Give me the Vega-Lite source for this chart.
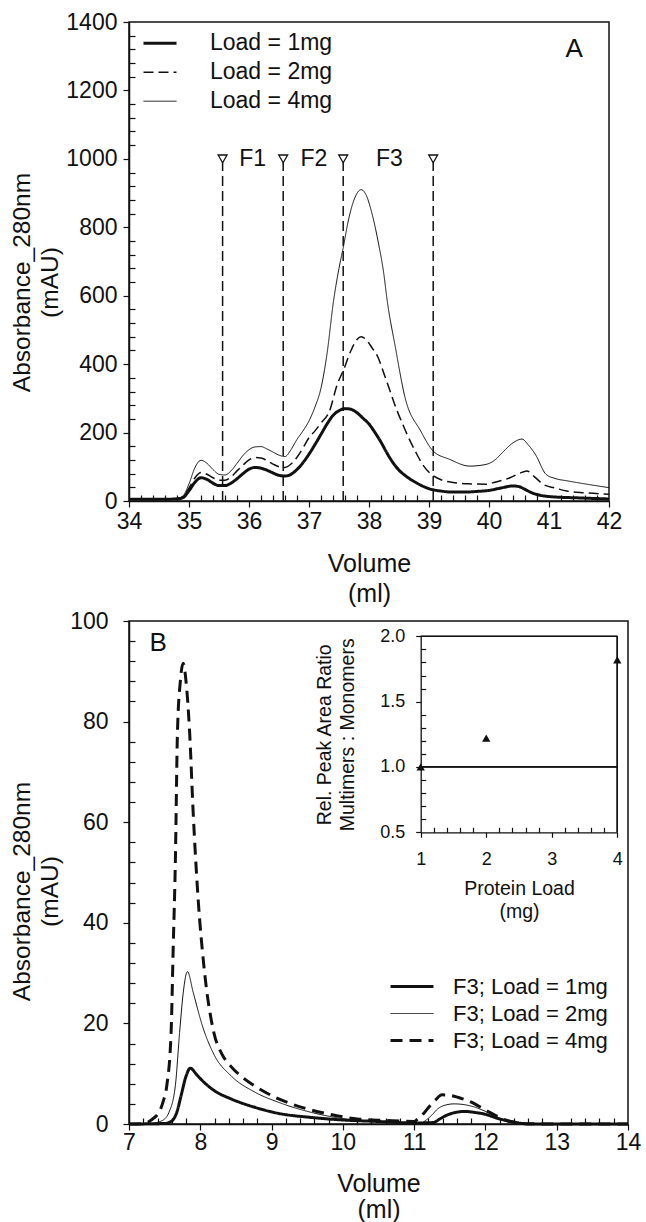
{
  "$schema": "https://vega.github.io/schema/vega-lite/v6.json",
  "background": "white",
  "padding": {"left": 8, "top": 10, "right": 5, "bottom": 0},
  "spacing": 2,
  "config": {
    "font": "Liberation Sans",
    "view": {"stroke": "#111", "strokeWidth": 1.5},
    "axis": {
      "domainColor": "#111", "domainWidth": 1.5, "tickColor": "#111", "tickWidth": 1.2,
      "labelColor": "#111", "titleColor": "#111", "labelFontSize": 23, "titleFontSize": 25,
      "titleFontWeight": "normal", "grid": false, "labelOverlap": false, "labelFlush": false
    },
    "legend": {"labelColor": "#111", "symbolStrokeColor": "#111", "labelLimit": 400}
  },
  "resolve": {
    "scale": {"strokeDash": "independent", "strokeWidth": "independent"},
    "legend": {"strokeDash": "independent", "strokeWidth": "independent"}
  },
  "datasets": {
    "a": [
      {"v":34.0,"a":5,"load":"Load = 1mg"},{"v":34.5,"a":5,"load":"Load = 1mg"},{"v":34.8,"a":6,"load":"Load = 1mg"},{"v":34.9,"a":10,"load":"Load = 1mg"},{"v":35.0,"a":30,"load":"Load = 1mg"},{"v":35.1,"a":55,"load":"Load = 1mg"},{"v":35.2,"a":68,"load":"Load = 1mg"},{"v":35.3,"a":63,"load":"Load = 1mg"},{"v":35.4,"a":52,"load":"Load = 1mg"},{"v":35.5,"a":45,"load":"Load = 1mg"},{"v":35.6,"a":45,"load":"Load = 1mg"},{"v":35.7,"a":52,"load":"Load = 1mg"},{"v":35.8,"a":65,"load":"Load = 1mg"},{"v":35.9,"a":80,"load":"Load = 1mg"},{"v":36.0,"a":93,"load":"Load = 1mg"},{"v":36.1,"a":98,"load":"Load = 1mg"},{"v":36.2,"a":96,"load":"Load = 1mg"},{"v":36.3,"a":90,"load":"Load = 1mg"},{"v":36.4,"a":82,"load":"Load = 1mg"},{"v":36.5,"a":75,"load":"Load = 1mg"},{"v":36.6,"a":73,"load":"Load = 1mg"},{"v":36.7,"a":78,"load":"Load = 1mg"},{"v":36.8,"a":92,"load":"Load = 1mg"},{"v":36.9,"a":112,"load":"Load = 1mg"},{"v":37.0,"a":137,"load":"Load = 1mg"},{"v":37.1,"a":165,"load":"Load = 1mg"},{"v":37.2,"a":195,"load":"Load = 1mg"},{"v":37.3,"a":225,"load":"Load = 1mg"},{"v":37.4,"a":250,"load":"Load = 1mg"},{"v":37.5,"a":264,"load":"Load = 1mg"},{"v":37.6,"a":270,"load":"Load = 1mg"},{"v":37.7,"a":268,"load":"Load = 1mg"},{"v":37.8,"a":258,"load":"Load = 1mg"},{"v":37.9,"a":242,"load":"Load = 1mg"},{"v":38.0,"a":225,"load":"Load = 1mg"},{"v":38.1,"a":200,"load":"Load = 1mg"},{"v":38.2,"a":172,"load":"Load = 1mg"},{"v":38.3,"a":140,"load":"Load = 1mg"},{"v":38.4,"a":112,"load":"Load = 1mg"},{"v":38.5,"a":90,"load":"Load = 1mg"},{"v":38.6,"a":75,"load":"Load = 1mg"},{"v":38.8,"a":52,"load":"Load = 1mg"},{"v":39.0,"a":36,"load":"Load = 1mg"},{"v":39.2,"a":29,"load":"Load = 1mg"},{"v":39.4,"a":26,"load":"Load = 1mg"},{"v":39.6,"a":26,"load":"Load = 1mg"},{"v":39.8,"a":28,"load":"Load = 1mg"},{"v":40.0,"a":31,"load":"Load = 1mg"},{"v":40.2,"a":38,"load":"Load = 1mg"},{"v":40.4,"a":44,"load":"Load = 1mg"},{"v":40.5,"a":42,"load":"Load = 1mg"},{"v":40.6,"a":34,"load":"Load = 1mg"},{"v":40.7,"a":25,"load":"Load = 1mg"},{"v":40.8,"a":19,"load":"Load = 1mg"},{"v":41.0,"a":13,"load":"Load = 1mg"},{"v":41.5,"a":9,"load":"Load = 1mg"},{"v":42.0,"a":6,"load":"Load = 1mg"},
      {"v":34.0,"a":5,"load":"Load = 2mg"},{"v":34.5,"a":5,"load":"Load = 2mg"},{"v":34.8,"a":7,"load":"Load = 2mg"},{"v":34.9,"a":12,"load":"Load = 2mg"},{"v":35.0,"a":38,"load":"Load = 2mg"},{"v":35.1,"a":68,"load":"Load = 2mg"},{"v":35.2,"a":83,"load":"Load = 2mg"},{"v":35.3,"a":78,"load":"Load = 2mg"},{"v":35.4,"a":68,"load":"Load = 2mg"},{"v":35.5,"a":61,"load":"Load = 2mg"},{"v":35.6,"a":61,"load":"Load = 2mg"},{"v":35.7,"a":70,"load":"Load = 2mg"},{"v":35.8,"a":88,"load":"Load = 2mg"},{"v":35.9,"a":105,"load":"Load = 2mg"},{"v":36.0,"a":120,"load":"Load = 2mg"},{"v":36.1,"a":127,"load":"Load = 2mg"},{"v":36.2,"a":126,"load":"Load = 2mg"},{"v":36.3,"a":118,"load":"Load = 2mg"},{"v":36.4,"a":108,"load":"Load = 2mg"},{"v":36.5,"a":100,"load":"Load = 2mg"},{"v":36.6,"a":98,"load":"Load = 2mg"},{"v":36.7,"a":108,"load":"Load = 2mg"},{"v":36.8,"a":128,"load":"Load = 2mg"},{"v":36.9,"a":155,"load":"Load = 2mg"},{"v":37.0,"a":185,"load":"Load = 2mg"},{"v":37.1,"a":205,"load":"Load = 2mg"},{"v":37.2,"a":228,"load":"Load = 2mg"},{"v":37.34,"a":262,"load":"Load = 2mg"},{"v":37.47,"a":340,"load":"Load = 2mg"},{"v":37.58,"a":385,"load":"Load = 2mg"},{"v":37.7,"a":440,"load":"Load = 2mg"},{"v":37.8,"a":472,"load":"Load = 2mg"},{"v":37.87,"a":480,"load":"Load = 2mg"},{"v":37.95,"a":472,"load":"Load = 2mg"},{"v":38.05,"a":448,"load":"Load = 2mg"},{"v":38.15,"a":420,"load":"Load = 2mg"},{"v":38.25,"a":372,"load":"Load = 2mg"},{"v":38.35,"a":322,"load":"Load = 2mg"},{"v":38.45,"a":272,"load":"Load = 2mg"},{"v":38.56,"a":225,"load":"Load = 2mg"},{"v":38.66,"a":185,"load":"Load = 2mg"},{"v":38.77,"a":146,"load":"Load = 2mg"},{"v":38.9,"a":105,"load":"Load = 2mg"},{"v":39.04,"a":78,"load":"Load = 2mg"},{"v":39.2,"a":62,"load":"Load = 2mg"},{"v":39.4,"a":54,"load":"Load = 2mg"},{"v":39.7,"a":50,"load":"Load = 2mg"},{"v":39.94,"a":49,"load":"Load = 2mg"},{"v":40.1,"a":55,"load":"Load = 2mg"},{"v":40.35,"a":68,"load":"Load = 2mg"},{"v":40.5,"a":80,"load":"Load = 2mg"},{"v":40.63,"a":88,"load":"Load = 2mg"},{"v":40.75,"a":72,"load":"Load = 2mg"},{"v":40.9,"a":49,"load":"Load = 2mg"},{"v":41.1,"a":38,"load":"Load = 2mg"},{"v":41.3,"a":29,"load":"Load = 2mg"},{"v":41.6,"a":24,"load":"Load = 2mg"},{"v":42.0,"a":20,"load":"Load = 2mg"},
      {"v":34.0,"a":5,"load":"Load = 4mg"},{"v":34.5,"a":5,"load":"Load = 4mg"},{"v":34.8,"a":8,"load":"Load = 4mg"},{"v":34.9,"a":15,"load":"Load = 4mg"},{"v":35.0,"a":50,"load":"Load = 4mg"},{"v":35.1,"a":98,"load":"Load = 4mg"},{"v":35.2,"a":119,"load":"Load = 4mg"},{"v":35.3,"a":110,"load":"Load = 4mg"},{"v":35.4,"a":92,"load":"Load = 4mg"},{"v":35.5,"a":78,"load":"Load = 4mg"},{"v":35.6,"a":76,"load":"Load = 4mg"},{"v":35.7,"a":88,"load":"Load = 4mg"},{"v":35.8,"a":110,"load":"Load = 4mg"},{"v":35.9,"a":133,"load":"Load = 4mg"},{"v":36.0,"a":150,"load":"Load = 4mg"},{"v":36.1,"a":158,"load":"Load = 4mg"},{"v":36.2,"a":159,"load":"Load = 4mg"},{"v":36.3,"a":152,"load":"Load = 4mg"},{"v":36.4,"a":143,"load":"Load = 4mg"},{"v":36.5,"a":134,"load":"Load = 4mg"},{"v":36.6,"a":130,"load":"Load = 4mg"},{"v":36.7,"a":150,"load":"Load = 4mg"},{"v":36.8,"a":180,"load":"Load = 4mg"},{"v":36.9,"a":205,"load":"Load = 4mg"},{"v":37.0,"a":234,"load":"Load = 4mg"},{"v":37.1,"a":275,"load":"Load = 4mg"},{"v":37.2,"a":330,"load":"Load = 4mg"},{"v":37.3,"a":430,"load":"Load = 4mg"},{"v":37.41,"a":586,"load":"Load = 4mg"},{"v":37.5,"a":680,"load":"Load = 4mg"},{"v":37.57,"a":740,"load":"Load = 4mg"},{"v":37.65,"a":815,"load":"Load = 4mg"},{"v":37.75,"a":880,"load":"Load = 4mg"},{"v":37.87,"a":910,"load":"Load = 4mg"},{"v":37.95,"a":895,"load":"Load = 4mg"},{"v":38.05,"a":840,"load":"Load = 4mg"},{"v":38.15,"a":760,"load":"Load = 4mg"},{"v":38.25,"a":660,"load":"Load = 4mg"},{"v":38.3,"a":590,"load":"Load = 4mg"},{"v":38.44,"a":449,"load":"Load = 4mg"},{"v":38.6,"a":303,"load":"Load = 4mg"},{"v":38.86,"a":205,"load":"Load = 4mg"},{"v":39.07,"a":146,"load":"Load = 4mg"},{"v":39.34,"a":122,"load":"Load = 4mg"},{"v":39.68,"a":102,"load":"Load = 4mg"},{"v":39.95,"a":107,"load":"Load = 4mg"},{"v":40.1,"a":120,"load":"Load = 4mg"},{"v":40.22,"a":141,"load":"Load = 4mg"},{"v":40.4,"a":170,"load":"Load = 4mg"},{"v":40.55,"a":181,"load":"Load = 4mg"},{"v":40.65,"a":165,"load":"Load = 4mg"},{"v":40.78,"a":134,"load":"Load = 4mg"},{"v":40.95,"a":78,"load":"Load = 4mg"},{"v":41.1,"a":66,"load":"Load = 4mg"},{"v":41.3,"a":59,"load":"Load = 4mg"},{"v":41.6,"a":50,"load":"Load = 4mg"},{"v":42.0,"a":39,"load":"Load = 4mg"}
    ],
    "b": [
      {"v":7.0,"a":0,"load":"F3; Load = 1mg"},{"v":7.5,"a":0.1,"load":"F3; Load = 1mg"},{"v":7.6,"a":0.6,"load":"F3; Load = 1mg"},{"v":7.67,"a":2.3,"load":"F3; Load = 1mg"},{"v":7.73,"a":5.6,"load":"F3; Load = 1mg"},{"v":7.8,"a":9.5,"load":"F3; Load = 1mg"},{"v":7.86,"a":11.1,"load":"F3; Load = 1mg"},{"v":7.95,"a":9.8,"load":"F3; Load = 1mg"},{"v":8.03,"a":8.6,"load":"F3; Load = 1mg"},{"v":8.2,"a":6.6,"load":"F3; Load = 1mg"},{"v":8.43,"a":5.0,"load":"F3; Load = 1mg"},{"v":8.77,"a":3.3,"load":"F3; Load = 1mg"},{"v":9.1,"a":2.1,"load":"F3; Load = 1mg"},{"v":9.56,"a":1.3,"load":"F3; Load = 1mg"},{"v":10.0,"a":0.8,"load":"F3; Load = 1mg"},{"v":10.5,"a":0.5,"load":"F3; Load = 1mg"},{"v":11.0,"a":0.2,"load":"F3; Load = 1mg"},{"v":11.27,"a":0.3,"load":"F3; Load = 1mg"},{"v":11.36,"a":1.0,"load":"F3; Load = 1mg"},{"v":11.45,"a":1.7,"load":"F3; Load = 1mg"},{"v":11.58,"a":2.3,"load":"F3; Load = 1mg"},{"v":11.72,"a":2.5,"load":"F3; Load = 1mg"},{"v":11.85,"a":2.3,"load":"F3; Load = 1mg"},{"v":11.98,"a":2.0,"load":"F3; Load = 1mg"},{"v":12.2,"a":1.0,"load":"F3; Load = 1mg"},{"v":12.43,"a":0.3,"load":"F3; Load = 1mg"},{"v":12.6,"a":0,"load":"F3; Load = 1mg"},{"v":14.0,"a":0,"load":"F3; Load = 1mg"},
      {"v":7.0,"a":0,"load":"F3; Load = 2mg"},{"v":7.3,"a":0,"load":"F3; Load = 2mg"},{"v":7.39,"a":0.3,"load":"F3; Load = 2mg"},{"v":7.5,"a":1.0,"load":"F3; Load = 2mg"},{"v":7.56,"a":2.3,"load":"F3; Load = 2mg"},{"v":7.65,"a":7.6,"load":"F3; Load = 2mg"},{"v":7.71,"a":18.2,"load":"F3; Load = 2mg"},{"v":7.76,"a":26,"load":"F3; Load = 2mg"},{"v":7.82,"a":30.3,"load":"F3; Load = 2mg"},{"v":7.9,"a":26.2,"load":"F3; Load = 2mg"},{"v":8.03,"a":19.5,"load":"F3; Load = 2mg"},{"v":8.2,"a":13.6,"load":"F3; Load = 2mg"},{"v":8.43,"a":9.6,"load":"F3; Load = 2mg"},{"v":8.77,"a":6.3,"load":"F3; Load = 2mg"},{"v":9.1,"a":4.3,"load":"F3; Load = 2mg"},{"v":9.56,"a":2.3,"load":"F3; Load = 2mg"},{"v":9.9,"a":1.3,"load":"F3; Load = 2mg"},{"v":10.3,"a":0.6,"load":"F3; Load = 2mg"},{"v":10.8,"a":0.3,"load":"F3; Load = 2mg"},{"v":11.1,"a":0.2,"load":"F3; Load = 2mg"},{"v":11.16,"a":0.7,"load":"F3; Load = 2mg"},{"v":11.25,"a":1.8,"load":"F3; Load = 2mg"},{"v":11.33,"a":3.0,"load":"F3; Load = 2mg"},{"v":11.45,"a":3.8,"load":"F3; Load = 2mg"},{"v":11.56,"a":4.0,"load":"F3; Load = 2mg"},{"v":11.79,"a":3.6,"load":"F3; Load = 2mg"},{"v":12.08,"a":2.0,"load":"F3; Load = 2mg"},{"v":12.2,"a":1.2,"load":"F3; Load = 2mg"},{"v":12.31,"a":0.7,"load":"F3; Load = 2mg"},{"v":12.45,"a":0.2,"load":"F3; Load = 2mg"},{"v":12.6,"a":0,"load":"F3; Load = 2mg"},{"v":14.0,"a":0,"load":"F3; Load = 2mg"},
      {"v":7.0,"a":0,"load":"F3; Load = 4mg"},{"v":7.2,"a":0.1,"load":"F3; Load = 4mg"},{"v":7.27,"a":0.4,"load":"F3; Load = 4mg"},{"v":7.35,"a":1.2,"load":"F3; Load = 4mg"},{"v":7.42,"a":2.3,"load":"F3; Load = 4mg"},{"v":7.48,"a":4.5,"load":"F3; Load = 4mg"},{"v":7.53,"a":7.6,"load":"F3; Load = 4mg"},{"v":7.59,"a":18,"load":"F3; Load = 4mg"},{"v":7.62,"a":35,"load":"F3; Load = 4mg"},{"v":7.65,"a":52,"load":"F3; Load = 4mg"},{"v":7.68,"a":78,"load":"F3; Load = 4mg"},{"v":7.72,"a":88,"load":"F3; Load = 4mg"},{"v":7.76,"a":91.6,"load":"F3; Load = 4mg"},{"v":7.8,"a":88,"load":"F3; Load = 4mg"},{"v":7.85,"a":78,"load":"F3; Load = 4mg"},{"v":7.9,"a":62,"load":"F3; Load = 4mg"},{"v":7.97,"a":44.7,"load":"F3; Load = 4mg"},{"v":8.05,"a":31.5,"load":"F3; Load = 4mg"},{"v":8.19,"a":18.2,"load":"F3; Load = 4mg"},{"v":8.3,"a":14,"load":"F3; Load = 4mg"},{"v":8.42,"a":11.6,"load":"F3; Load = 4mg"},{"v":8.6,"a":9.2,"load":"F3; Load = 4mg"},{"v":8.76,"a":7.6,"load":"F3; Load = 4mg"},{"v":9.1,"a":5.0,"load":"F3; Load = 4mg"},{"v":9.5,"a":3.0,"load":"F3; Load = 4mg"},{"v":9.9,"a":1.7,"load":"F3; Load = 4mg"},{"v":10.2,"a":1.0,"load":"F3; Load = 4mg"},{"v":10.6,"a":0.7,"load":"F3; Load = 4mg"},{"v":11.0,"a":0.5,"load":"F3; Load = 4mg"},{"v":11.05,"a":1.0,"load":"F3; Load = 4mg"},{"v":11.14,"a":2.2,"load":"F3; Load = 4mg"},{"v":11.22,"a":3.6,"load":"F3; Load = 4mg"},{"v":11.3,"a":4.8,"load":"F3; Load = 4mg"},{"v":11.39,"a":5.8,"load":"F3; Load = 4mg"},{"v":11.5,"a":5.7,"load":"F3; Load = 4mg"},{"v":11.68,"a":5.0,"load":"F3; Load = 4mg"},{"v":11.85,"a":4.0,"load":"F3; Load = 4mg"},{"v":11.97,"a":3.0,"load":"F3; Load = 4mg"},{"v":12.1,"a":2.0,"load":"F3; Load = 4mg"},{"v":12.2,"a":1.3,"load":"F3; Load = 4mg"},{"v":12.3,"a":0.7,"load":"F3; Load = 4mg"},{"v":12.43,"a":0.3,"load":"F3; Load = 4mg"},{"v":12.6,"a":0.05,"load":"F3; Load = 4mg"},{"v":13.0,"a":0,"load":"F3; Load = 4mg"},{"v":14.0,"a":0,"load":"F3; Load = 4mg"}
    ],
    "inset": [
      {"load": 1, "ratio": 1.0},
      {"load": 2, "ratio": 1.22},
      {"load": 4, "ratio": 1.82}
    ],
    "cuts": [{"v": 35.56}, {"v": 36.57}, {"v": 37.57}, {"v": 39.07}],
    "fractions": [{"v": 36.06, "lab": "F1"}, {"v": 37.08, "lab": "F2"}, {"v": 38.34, "lab": "F3"}]
  },
  "vconcat": [
    {
      "width": 480,
      "height": 479,
      "resolve": {"axis": {"x": "independent", "y": "independent"}},
      "layer": [
        {
          "data": {"name": "a"},
          "mark": {"type": "line", "interpolate": "monotone", "color": "#111"},
          "encoding": {
            "x": {
              "field": "v", "type": "quantitative",
              "scale": {"domain": [34, 42], "nice": false, "zero": false},
              "axis": {
                "orient": "bottom",
                "title": ["Volume", "(ml)"], "titleLineHeight": 30, "titlePadding": 18, "labelPadding": 3,
                "values": [34,35,36,37,38,39,40,41,42], "tickSize": 6, "format": "d"
              }
            },
            "y": {
              "field": "a", "type": "quantitative",
              "scale": {"domain": [0, 1400], "nice": false},
              "axis": {
                "orient": "left",
                "title": ["Absorbance_280nm", "(mAU)"], "titleFontSize": 24.5, "titleLineHeight": 28,
                "titleX": -95, "titleY": 260, "labelPadding": 6,
                "values": [0,200,400,600,800,1000,1200,1400], "tickSize": 6, "format": "d"
              }
            },
            "strokeDash": {
              "field": "load", "type": "nominal",
              "scale": {"domain": ["Load = 1mg", "Load = 2mg", "Load = 4mg"], "range": [[1, 0], [10, 5], [1, 0]]},
              "legend": {"title": null, "orient": "none", "legendX": 13, "legendY": 7, "padding": 0, "symbolType": "stroke", "symbolSize": 1089, "labelFontSize": 23, "labelOffset": 32, "rowPadding": 0, "clipHeight": 28.4}
            },
            "strokeWidth": {
              "field": "load", "type": "nominal",
              "scale": {"type": "ordinal", "domain": ["Load = 1mg", "Load = 2mg", "Load = 4mg"], "range": [3, 1.5, 1]},
              "legend": {"title": null, "orient": "none", "legendX": 13, "legendY": 7, "padding": 0, "symbolType": "stroke", "symbolSize": 1089, "labelFontSize": 23, "labelOffset": 32, "rowPadding": 0, "clipHeight": 28.4}
            }
          }
        },
        {
          "data": {"name": "cuts"},
          "mark": {"type": "rule", "strokeDash": [10, 5], "strokeWidth": 1.5, "color": "#111"},
          "encoding": {
            "x": {
              "field": "v", "type": "quantitative",
              "axis": {
                "orient": "bottom", "title": null, "labels": false, "domain": false, "tickSize": -6,
                "values": [34.2,34.4,34.6,34.8,35.2,35.4,35.6,35.8,36.2,36.4,36.6,36.8,37.2,37.4,37.6,37.8,38.2,38.4,38.6,38.8,39.2,39.4,39.6,39.8,40.2,40.4,40.6,40.8,41.2,41.4,41.6,41.8]
              }
            },
            "y": {
              "datum": 0, "type": "quantitative",
              "axis": {
                "orient": "left", "title": null, "labels": false, "domain": false, "tickSize": -6,
                "values": [40,80,120,160,240,280,320,360,440,480,520,560,640,680,720,760,840,880,920,960,1040,1080,1120,1160,1240,1280,1320,1360]
              }
            },
            "y2": {"datum": 990}
          }
        },
        {
          "data": {"name": "cuts"},
          "mark": {"type": "point", "shape": "triangle-down", "filled": true, "fill": "white", "stroke": "#111", "strokeWidth": 1.3, "size": 80, "opacity": 1},
          "encoding": {
            "x": {"field": "v", "type": "quantitative", "axis": null},
            "y": {"datum": 1000, "type": "quantitative", "axis": null}
          }
        },
        {
          "data": {"name": "fractions"},
          "mark": {"type": "text", "fontSize": 23, "align": "center", "baseline": "middle", "color": "#111"},
          "encoding": {
            "x": {"field": "v", "type": "quantitative", "axis": null},
            "y": {"datum": 1000, "type": "quantitative", "axis": null},
            "text": {"field": "lab"}
          }
        },
        {
          "data": {"values": [{"lab": "A"}]},
          "mark": {"type": "text", "fontSize": 26, "align": "center", "baseline": "middle", "color": "#111"},
          "encoding": {
            "x": {"datum": 41.42, "type": "quantitative", "axis": null},
            "y": {"datum": 1322, "type": "quantitative", "axis": null},
            "text": {"field": "lab"}
          }
        }
      ]
    },
    {
      "width": 499,
      "height": 503,
      "layer": [
        {
          "resolve": {"axis": {"x": "independent", "y": "independent"}},
          "layer": [
            {
              "data": {"name": "b"},
              "mark": {"type": "line", "interpolate": "monotone", "color": "#111"},
              "encoding": {
                "x": {
                  "field": "v", "type": "quantitative",
                  "scale": {"domain": [7, 14], "nice": false, "zero": false},
                  "axis": {
                    "orient": "bottom",
                    "title": ["Volume", "(ml)"], "titleLineHeight": 26, "titlePadding": 17, "labelPadding": 1,
                    "values": [7,8,9,10,11,12,13,14], "tickSize": 6, "format": "d"
                  }
                },
                "y": {
                  "field": "a", "type": "quantitative",
                  "scale": {"domain": [0, 100], "nice": false},
                  "axis": {
                    "orient": "left",
                    "title": ["Absorbance_280nm", "(mAU)"], "titleFontSize": 24.5, "titleLineHeight": 28,
                    "titleX": -95, "titleY": 270, "labelPadding": 15,
                    "values": [0,20,40,60,80,100], "tickSize": 6, "format": "d"
                  }
                },
                "strokeDash": {
                  "field": "load", "type": "nominal",
                  "scale": {"domain": ["F3; Load = 1mg", "F3; Load = 2mg", "F3; Load = 4mg"], "range": [[1, 0], [1, 0], [12, 7]]},
                  "legend": {"title": null, "orient": "none", "legendX": 260, "legendY": 352, "padding": 0, "symbolType": "stroke", "symbolSize": 1849, "labelFontSize": 22, "labelOffset": 18, "rowPadding": 0, "clipHeight": 27}
                },
                "strokeWidth": {
                  "field": "load", "type": "nominal",
                  "scale": {"type": "ordinal", "domain": ["F3; Load = 1mg", "F3; Load = 2mg", "F3; Load = 4mg"], "range": [3, 1, 3]},
                  "legend": {"title": null, "orient": "none", "legendX": 260, "legendY": 352, "padding": 0, "symbolType": "stroke", "symbolSize": 1849, "labelFontSize": 22, "labelOffset": 18, "rowPadding": 0, "clipHeight": 27}
                }
              }
            },
            {
              "data": {"values": [{"lab": "B"}]},
              "mark": {"type": "text", "fontSize": 26, "align": "center", "baseline": "middle", "color": "#111"},
              "encoding": {
                "x": {
                  "datum": 7.41, "type": "quantitative",
                  "axis": {
                    "orient": "bottom", "title": null, "labels": false, "domain": false, "tickSize": -6,
                    "values": [7.2,7.4,7.6,7.8,8.2,8.4,8.6,8.8,9.2,9.4,9.6,9.8,10.2,10.4,10.6,10.8,11.2,11.4,11.6,11.8,12.2,12.4,12.6,12.8,13.2,13.4,13.6,13.8]
                  }
                },
                "y": {
                  "datum": 95.6, "type": "quantitative",
                  "axis": {
                    "orient": "left", "title": null, "labels": false, "domain": false, "tickSize": -6,
                    "values": [4,8,12,16,24,28,32,36,44,48,52,56,64,68,72,76,84,88,92,96]
                  }
                },
                "text": {"field": "lab"}
              }
            }
          ]
        },
        {
          "resolve": {"axis": {"x": "independent", "y": "independent"}},
          "layer": [
            {
              "data": {"name": "inset"},
              "mark": {"type": "rule", "color": "#111", "strokeWidth": 1.3},
              "encoding": {
                "x": {
                  "datum": 1, "type": "quantitative",
                  "axis": {
                    "orient": "bottom", "offset": -291.7, "title": null, "labels": false, "domain": false, "tickSize": -5,
                    "values": [1.2,1.4,1.6,1.8,2.2,2.4,2.6,2.8,3.2,3.4,3.6,3.8]
                  }
                },
                "x2": {"datum": 4},
                "y": {
                  "datum": 1.0, "type": "quantitative",
                  "axis": {
                    "orient": "left", "offset": -291.7, "title": null, "labels": false, "domain": false, "tickSize": -5,
                    "values": [0.6,0.7,0.8,0.9,1.1,1.2,1.3,1.4,1.6,1.7,1.8,1.9]
                  }
                }
              }
            },
            {
              "data": {"name": "inset"},
              "mark": {"type": "rule", "color": "#111", "strokeWidth": 1.3},
              "encoding": {
                "x": {"datum": 1, "type": "quantitative", "axis": null},
                "x2": {"datum": 4},
                "y": {"datum": 2.0, "type": "quantitative", "axis": null}
              }
            },
            {
              "data": {"name": "inset"},
              "mark": {"type": "rule", "color": "#111", "strokeWidth": 1.3},
              "encoding": {
                "x": {"datum": 4, "type": "quantitative", "axis": null},
                "y": {"datum": 0.5, "type": "quantitative", "axis": null},
                "y2": {"datum": 2.0}
              }
            },
            {
              "data": {"name": "inset"},
              "mark": {"type": "point", "shape": "triangle-up", "filled": true, "color": "#111", "size": 70, "opacity": 1},
              "encoding": {
                "x": {
                  "field": "load", "type": "quantitative",
                  "scale": {"domain": [1, 4], "range": [291.7, 488.3], "nice": false, "zero": false},
                  "axis": {
                    "orient": "bottom", "offset": -291.7,
                    "title": ["Protein Load", "(mg)"], "titleFontSize": 19.5, "titleLineHeight": 23, "titlePadding": 11,
                    "labelFontSize": 18, "labelPadding": 13, "domainWidth": 1.3,
                    "values": [1,2,3,4], "tickSize": 5, "format": "d"
                  }
                },
                "y": {
                  "field": "ratio", "type": "quantitative",
                  "scale": {"domain": [0.5, 2.0], "range": [211.3, 15.3], "nice": false, "zero": false},
                  "axis": {
                    "orient": "left", "offset": -291.7,
                    "title": ["Rel. Peak Area Ratio", "Multimers : Monomers"], "titleFontSize": 19.5, "titleLineHeight": 23, "titlePadding": 22,
                    "labelFontSize": 18, "labelPadding": 11, "domainWidth": 1.3,
                    "values": [0.5,1.0,1.5,2.0], "tickSize": 5, "format": ".1f"
                  }
                }
              }
            }
          ]
        }
      ],
      "resolve": {
        "scale": {"x": "independent", "y": "independent"},
        "axis": {"x": "independent", "y": "independent"}
      }
    }
  ]
}
